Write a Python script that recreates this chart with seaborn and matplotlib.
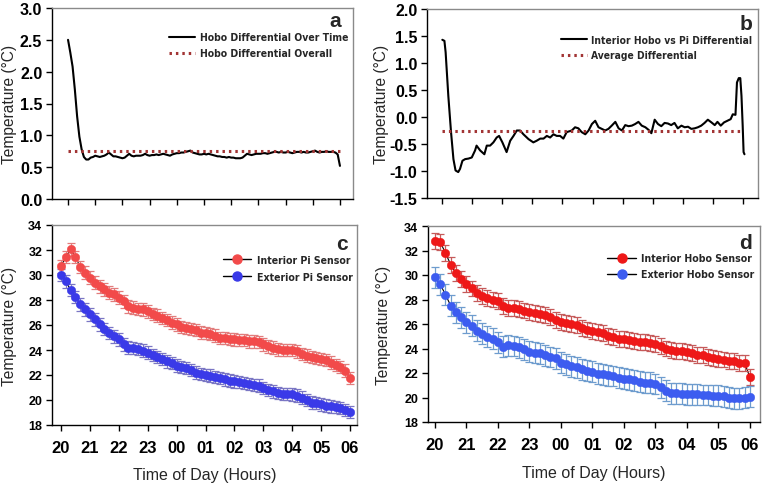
import numpy as np
import pandas as pd
import matplotlib
matplotlib.use("Agg")
import matplotlib.pyplot as plt
import seaborn as sns
from matplotlib.lines import Line2D
from matplotlib import font_manager as fm

sns.set_style("ticks")
plt.rcParams["font.family"] = ["Liberation Sans", "DejaVu Sans"]

# ---------------- data ----------------
hour_labels = ["20", "21", "22", "23", "00", "01", "02", "03", "04", "05", "06"]

# panel a: Hobo differential, every 5 minutes from 20:00
minutes_a = list(range(0, 601, 5))
hobo_diff = [2.50, 2.30, 2.08, 1.72, 1.30, 0.98, 0.78, 0.66, 0.62, 0.62, 0.65, 0.66,
             0.68, 0.67, 0.66, 0.67, 0.68, 0.70, 0.73, 0.70, 0.67, 0.67, 0.66, 0.65,
             0.64, 0.65, 0.68, 0.71, 0.68, 0.67, 0.68, 0.68, 0.68, 0.69, 0.71, 0.69,
             0.68, 0.69, 0.69, 0.70, 0.69, 0.70, 0.71, 0.70, 0.69, 0.68, 0.70, 0.71,
             0.72, 0.72, 0.73, 0.73, 0.74, 0.75, 0.76, 0.73, 0.72, 0.71, 0.70, 0.70,
             0.71, 0.70, 0.71, 0.70, 0.69, 0.68, 0.67, 0.67, 0.66, 0.66, 0.65, 0.66,
             0.65, 0.65, 0.64, 0.64, 0.64, 0.65, 0.68, 0.71, 0.70, 0.69, 0.70, 0.71,
             0.71, 0.71, 0.72, 0.72, 0.71, 0.72, 0.73, 0.74, 0.74, 0.73, 0.74, 0.73,
             0.73, 0.74, 0.73, 0.72, 0.73, 0.74, 0.74, 0.73, 0.74, 0.73, 0.73, 0.74,
             0.75, 0.76, 0.74, 0.73, 0.74, 0.74, 0.75, 0.74, 0.74, 0.74, 0.73, 0.70,
             0.52]
hobo_diff_overall = 0.75

# panel b: interior Hobo vs Pi differential
hours_b = [0.00, 0.07, 0.11, 0.20, 0.29, 0.37, 0.44, 0.53, 0.59, 0.67, 0.76, 0.87,
           0.98, 1.09, 1.14, 1.26, 1.40, 1.48, 1.59, 1.70, 1.81, 1.89, 2.00, 2.14,
           2.26, 2.37, 2.48, 2.59, 2.70, 2.87, 3.03, 3.14, 3.26, 3.37, 3.48, 3.59,
           3.70, 3.81, 3.92, 4.03, 4.14, 4.31, 4.42, 4.53, 4.64, 4.76, 4.87, 4.98,
           5.09, 5.20, 5.31, 5.42, 5.53, 5.64, 5.76, 5.87, 5.98, 6.09, 6.20, 6.31,
           6.42, 6.53, 6.64, 6.76, 6.87, 6.96, 7.07, 7.18, 7.29, 7.40, 7.51, 7.62,
           7.73, 7.84, 7.96, 8.07, 8.18, 8.29, 8.40, 8.51, 8.62, 8.73, 8.84, 8.96,
           9.07, 9.16, 9.27, 9.38, 9.49, 9.60, 9.67, 9.76, 9.81, 9.87, 9.92, 9.96,
           10.00, 10.03, 10.06]
hobo_pi_diff = [1.43, 1.41, 1.20, 0.39, -0.28, -0.78, -0.99, -1.02, -0.96, -0.81, -0.78, -0.77,
                -0.75, -0.62, -0.53, -0.62, -0.69, -0.53, -0.53, -0.47, -0.38, -0.35, -0.47, -0.65,
                -0.44, -0.35, -0.25, -0.25, -0.32, -0.41, -0.47, -0.44, -0.40, -0.40, -0.35, -0.38,
                -0.32, -0.35, -0.35, -0.40, -0.28, -0.25, -0.19, -0.21, -0.28, -0.32, -0.25, -0.13,
                -0.07, -0.19, -0.22, -0.25, -0.22, -0.16, -0.09, -0.21, -0.25, -0.15, -0.17, -0.16,
                -0.13, -0.09, -0.16, -0.19, -0.24, -0.30, -0.05, -0.13, -0.17, -0.11, -0.12, -0.15,
                -0.11, -0.21, -0.16, -0.19, -0.18, -0.22, -0.21, -0.19, -0.16, -0.11, -0.05, -0.10,
                -0.15, -0.09, -0.16, -0.10, -0.07, -0.04, 0.05, 0.04, 0.64, 0.72, 0.72, 0.39,
                -0.16, -0.65, -0.69]
average_diff = -0.26

# panels c and d: every 10 minutes from 20:00
minutes_cd = list(range(0, 601, 10))
interior_pi = [30.7, 31.45, 32.05, 31.45, 30.65, 30.2, 29.8, 29.4, 29.1, 28.85,
               28.6, 28.45, 28.2, 27.9, 27.5, 27.4, 27.3, 27.25, 27.1, 26.9,
               26.75, 26.55, 26.4, 26.2, 26.05, 25.85, 25.75, 25.7, 25.6, 25.4,
               25.35, 25.3, 25.15, 24.95, 24.95, 24.9, 24.85, 24.8, 24.8, 24.7,
               24.7, 24.65, 24.45, 24.3, 24.2, 24.05, 24.0, 24.0, 24.0, 23.9,
               23.7, 23.55, 23.45, 23.35, 23.3, 23.2, 23.0, 22.8, 22.65, 22.35, 21.75]
exterior_pi = [30.0, 29.5, 28.8, 28.25, 27.65, 27.25, 26.85, 26.45, 26.05, 25.7,
               25.35, 25.1, 24.85, 24.45, 24.2, 24.15, 24.1, 23.95, 23.8, 23.6,
               23.45, 23.3, 23.1, 22.95, 22.75, 22.65, 22.55, 22.4, 22.2, 22.1,
               22.0, 21.95, 21.85, 21.75, 21.65, 21.55, 21.5, 21.45, 21.35, 21.3,
               21.2, 21.15, 20.95, 20.8, 20.7, 20.55, 20.5, 20.5, 20.45, 20.35,
               20.2, 20.0, 19.8, 19.75, 19.65, 19.55, 19.5, 19.45, 19.35, 19.2, 19.05]
interior_hobo = [32.75, 32.7, 31.8, 30.85, 30.15, 29.65, 29.25, 28.9, 28.55, 28.3,
                 28.15, 28.0, 27.85, 27.5, 27.3, 27.3, 27.2, 27.1, 27.0, 26.9,
                 26.8, 26.7, 26.55, 26.35, 26.15, 26.05, 26.0, 25.9, 25.7, 25.55,
                 25.45, 25.35, 25.3, 25.05, 24.95, 24.8, 24.75, 24.7, 24.6, 24.55,
                 24.5, 24.45, 24.4, 24.2, 24.0, 23.85, 23.8, 23.8, 23.7, 23.6,
                 23.5, 23.45, 23.3, 23.2, 23.15, 23.1, 23.0, 22.95, 22.85, 22.8, 21.65]
exterior_hobo = [29.8, 29.25, 28.4, 27.5, 26.95, 26.55, 26.15, 25.85, 25.45, 25.2,
                 24.95, 24.8, 24.5, 24.15, 24.25, 24.2, 24.1, 23.95, 23.75, 23.65,
                 23.6, 23.45, 23.3, 23.2, 22.85, 22.7, 22.55, 22.45, 22.3, 22.2,
                 22.1, 21.95, 21.9, 21.8, 21.75, 21.6, 21.55, 21.5, 21.4, 21.3,
                 21.2, 21.2, 21.1, 20.85, 20.55, 20.35, 20.35, 20.3, 20.25, 20.25,
                 20.25, 20.2, 20.2, 20.15, 20.15, 20.1, 20.0, 19.95, 19.95, 20.0, 20.05]
err_interior_pi = 0.5
err_exterior_pi = 0.5
err_interior_hobo = 0.65
err_exterior_hobo = 0.85

# ---------------- layout ----------------
W, H = 764, 485
fig = plt.figure(figsize=(W / 100, H / 100), dpi=100)


def add_ax(l, t, r, b):
    return fig.add_axes([l / W, 1 - b / H, (r - l) / W, (b - t) / H])


axa = add_ax(52, 9, 353, 200)
axb = add_ax(427, 10, 758, 199)
axc = add_ax(52, 226, 357, 426)
axd = add_ax(428, 227, 760, 423)

# legend font: a narrow bold face if one is installed
leg_file, leg_scale = None, 1.0
for f in fm.fontManager.ttflist:
    if "liberationsansnarrow-bold." in f.fname.lower():
        leg_file, leg_scale = f.fname, 1.06
        break
if leg_file is None:
    for f in fm.fontManager.ttflist:
        if "dejavusanscondensed-bold." in f.fname.lower():
            leg_file, leg_scale = f.fname, 1.0
            break


def leg_prop(size):
    if leg_file is not None:
        return fm.FontProperties(fname=leg_file, size=size * leg_scale)
    return fm.FontProperties(family="Liberation Sans", weight="bold", size=size * 0.98)


dot_color = "#A23434"


def style(ax, xlim, ylim, yticks, yfmt, show_xlabels, ypad, ytick_size):
    ax.set_xlim(*xlim)
    ax.set_ylim(*ylim)
    ax.set_xticks(range(0, 11))
    if show_xlabels:
        ax.set_xticklabels(hour_labels, fontsize=12, fontweight="bold")
    else:
        ax.set_xticklabels([])
    ax.set_yticks(yticks)
    ax.set_yticklabels([yfmt.format(v) for v in yticks], fontsize=ytick_size,
                       fontweight="bold")
    ax.tick_params(axis="x", direction="out", length=4, width=1, pad=7, colors="black")
    ax.tick_params(axis="y", direction="out", length=4, width=1, pad=ypad, colors="black")
    for s in ("left", "bottom"):
        ax.spines[s].set_color("black")
        ax.spines[s].set_linewidth(1.0)
    for s in ("top", "right"):
        ax.spines[s].set_visible(True)
        ax.spines[s].set_color("#8a8a8a")
        ax.spines[s].set_linewidth(1.0)
    ax.set_xlabel("")
    ax.set_ylabel("")


dot_ls = (0, (0.8, 1.3))

# ---------- panel a ----------
ha = [m / 60 for m in minutes_a]
sns.lineplot(x=ha, y=hobo_diff, color="black", lw=1.5, ax=axa, legend=False)
sns.lineplot(x=[0, 10], y=[hobo_diff_overall, hobo_diff_overall], color=dot_color,
             lw=2.2, ls=dot_ls, ax=axa, legend=False)
style(axa, (-0.59, 10.48), (0, 3.0), [0, 0.5, 1.0, 1.5, 2.0, 2.5, 3.0], "{:.1f}",
      False, 3, 11.5)
axa.legend(handles=[Line2D([], [], color="black", lw=1.5),
                    Line2D([], [], color=dot_color, lw=2.2, ls=dot_ls)],
           labels=["Hobo Differential Over Time", "Hobo Differential Overall"],
           loc="upper left", bbox_to_anchor=(0.39, 0.872), frameon=False,
           prop=leg_prop(7.5), handlelength=2.5, handletextpad=0.45, labelspacing=0.55,
           borderpad=0, borderaxespad=0)

# ---------- panel b ----------
sns.lineplot(x=hours_b, y=hobo_pi_diff, color="black", lw=1.5, ax=axb, legend=False,
             sort=False)
sns.lineplot(x=[0, 10], y=[average_diff, average_diff], color=dot_color, lw=2.2,
             ls=dot_ls, ax=axb, legend=False)
style(axb, (-0.51, 10.51), (-1.5, 2.0), [-1.5, -1.0, -0.5, 0.0, 0.5, 1.0, 1.5, 2.0],
      "{:.1f}", False, 3, 11.5)
axb.legend(handles=[Line2D([], [], color="black", lw=1.5),
                    Line2D([], [], color=dot_color, lw=2.2, ls=dot_ls)],
           labels=["Interior Hobo vs Pi Differential", "Average Differential"],
           loc="upper left", bbox_to_anchor=(0.405, 0.865), frameon=False,
           prop=leg_prop(7.4), handlelength=2.5, handletextpad=0.45, labelspacing=0.55,
           borderpad=0, borderaxespad=0)


# ---------- panels c, d ----------
def sensor_panel(ax, series, xlim, ylim, ypad):
    hcd = [m / 60 for m in minutes_cd]
    handles, labels = [], []
    for vals, err, mcol, ecol, label in series:
        sns.lineplot(x=hcd, y=vals, color="black", lw=0.8, ax=ax, legend=False,
                     zorder=2)
        ax.errorbar(hcd, vals, yerr=err, fmt="none", ecolor=ecol, elinewidth=0.9,
                    capsize=2.6, capthick=0.9, zorder=3)
        sns.scatterplot(x=hcd, y=vals, color=mcol, s=38, edgecolor=mcol, linewidth=0.3,
                        ax=ax, legend=False, zorder=4)
        handles.append(Line2D([], [], color="black", lw=1.0, marker="o", ms=6.5,
                              mfc=mcol, mec=mcol))
        labels.append(label)
    style(ax, xlim, ylim, list(range(18, 35, 2)), "{:d}", True, ypad, 9)
    return handles, labels


hc, lc = sensor_panel(axc, [
    (interior_pi, err_interior_pi, "#F24A4A", "#E27C7C", "Interior Pi Sensor"),
    (exterior_pi, err_exterior_pi, "#3A3AE8", "#7A76C4", "Exterior Pi Sensor"),
], (-0.31, 10.24), (18, 34), 3)
axc.legend(handles=hc, labels=lc, loc="upper left", bbox_to_anchor=(0.56, 0.85),
           frameon=False, prop=leg_prop(7.6), handlelength=2.7, handletextpad=0.5,
           labelspacing=0.65, borderpad=0, borderaxespad=0)

hd, ld = sensor_panel(axd, [
    (interior_hobo, err_interior_hobo, "#EE1818", "#C65A5A", "Interior Hobo Sensor"),
    (exterior_hobo, err_exterior_hobo, "#3C5CF0", "#6E9CCE", "Exterior Hobo Sensor"),
], (-0.22, 10.32), (18, 34), 3)
axd.legend(handles=hd, labels=ld, loc="upper left", bbox_to_anchor=(0.54, 0.86),
           frameon=False, prop=leg_prop(7.6), handlelength=2.7, handletextpad=0.45,
           labelspacing=0.55, borderpad=0, borderaxespad=0)

# ---------- labels ----------
for ax, x in ((axa, -0.116), (axb, -0.114), (axc, -0.114), (axd, -0.11)):
    ax.set_ylabel("Temperature (°C)", fontsize=11.2)
    ax.yaxis.set_label_coords(x, 0.5)

for ax, y in ((axc, -0.21), (axd, -0.22)):
    ax.set_xlabel("Time of Day (Hours)", fontsize=11.5, va="top")
    ax.xaxis.set_label_coords(0.5, y)

for ax, letter, x, y in ((axa, "a", 0.94, 0.985), (axb, "b", 0.965, 0.975),
                         (axc, "c", 0.95, 0.955), (axd, "d", 0.955, 0.965)):
    ax.text(x, y, letter, transform=ax.transAxes, ha="center", va="top",
            fontsize=15, fontweight="bold")

fig.savefig("out.png", dpi=100)
